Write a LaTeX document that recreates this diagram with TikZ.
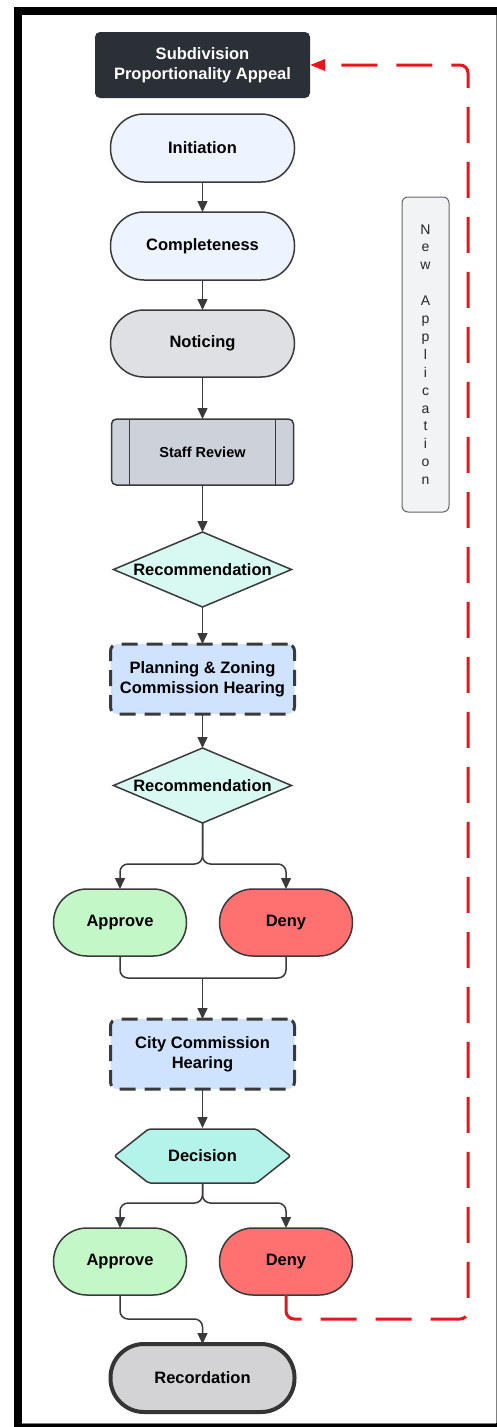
\documentclass[tikz,border=0pt]{standalone}
\usepackage{fontspec}
\setmainfont{Liberation Sans}
\definecolor{slatedark}{HTML}{2B2F36}
\definecolor{edgegray}{HTML}{3A3A3A}
\definecolor{paleblue}{HTML}{EDF4FF}
\definecolor{mistgray}{HTML}{DEE0E3}
\definecolor{steelgray}{HTML}{CDD2DA}
\definecolor{mint}{HTML}{D7F9F1}
\definecolor{hearingblue}{HTML}{CFE3FF}
\definecolor{approvegreen}{HTML}{C3F7C8}
\definecolor{denyred}{HTML}{FF7171}
\definecolor{decisionteal}{HTML}{B4F3EA}
\definecolor{recordgray}{HTML}{D3D3D5}
\definecolor{notegray}{HTML}{F2F3F5}
\definecolor{loopred}{HTML}{E6171C}
\usetikzlibrary{arrows.meta, positioning, shapes.geometric}

\begin{document}
\begin{tikzpicture}[
    x=1pt, y=-1pt,
    label/.style={font=\fontsize{16.5}{20}\selectfont\bfseries, text=black, align=center,
                  inner sep=0pt, outer sep=0pt},
    pill/.style={label, rectangle, rounded corners=33.5pt, draw=edgegray, line width=1.5pt,
                 minimum width=184pt, minimum height=68pt},
    outcome/.style={pill, minimum width=133pt, minimum height=67pt},
    procbox/.style={label, rectangle, rounded corners=5pt, draw=edgegray, line width=1.5pt, fill=steelgray,
                    minimum width=182pt, minimum height=66pt, font=\fontsize{14.5}{17}\selectfont\bfseries,
                    path picture={
                      \draw[edgegray, line width=1.5pt]
                        ([xshift=18pt]path picture bounding box.north west) -- ([xshift=18pt]path picture bounding box.south west)
                        ([xshift=-18pt]path picture bounding box.north east) -- ([xshift=-18pt]path picture bounding box.south east);}},
    choice/.style={label, diamond, draw=edgegray, line width=1.5pt, fill=mint,
                   minimum width=178pt, minimum height=75pt},
    hearing/.style={label, rectangle, rounded corners=7pt, draw=edgegray, line width=3pt,
                    dash pattern=on 16pt off 9pt, fill=hearingblue, minimum width=184pt, minimum height=70pt},
    hexbox/.style={label, rectangle, minimum width=178pt, minimum height=56pt,
                   path picture={
                     \path[fill=decisionteal, draw=edgegray, line width=1.5pt, rounded corners=2pt]
                       ([xshift=1pt]path picture bounding box.west)
                       -- ([xshift=35pt,yshift=-1pt]path picture bounding box.north west)
                       -- ([xshift=-35pt,yshift=-1pt]path picture bounding box.north east)
                       -- ([xshift=-1pt]path picture bounding box.east)
                       -- ([xshift=-35pt,yshift=1pt]path picture bounding box.south east)
                       -- ([xshift=35pt,yshift=1pt]path picture bounding box.south west) -- cycle;}},
    flow/.style={-{Triangle[length=11pt,width=10pt]}, line width=1.5pt, draw=edgegray},
    link/.style={line width=1.5pt, draw=edgegray},
    backloop/.style={-{Triangle[length=15pt,width=11pt]}, line width=3pt, draw=loopred,
                     dash pattern=on 36pt off 19pt, rounded corners=8pt}
  ]
    \useasboundingbox (0,0) rectangle (497,1427);
    % frame
    \fill[black] (14,7) rectangle (497,1427);
    \fill[white] (22,15) rectangle (496,1423);
    \draw[gray, line width=1pt] (496,15) -- (496,1423);
    \draw[gray, line width=0.8pt] (22,1423) -- (496,1423);

    \node[label, rectangle, rounded corners=5pt, fill=slatedark, text=white, minimum width=215pt, minimum height=66pt]
      (appeal) at (202.5,65) {Subdivision\\Proportionality Appeal};
    \node[pill, fill=paleblue, below=16pt of appeal] (init) {Initiation};
    \node[pill, fill=paleblue, below=30pt of init] (complete) {Completeness};
    \node[pill, fill=mistgray, below=30pt of complete, minimum height=67pt] (notice) {Noticing};
    \node[procbox, below=42pt of notice] (staff) {Staff Review};
    \node[choice, below=47pt of staff] (rec1) {\makebox[0pt]{Recommendation}};
    \node[hearing, below=37pt of rec1] (pzhear) {Planning \& Zoning\\Commission Hearing};
    \node[choice, below=34pt of pzhear] (rec2) {\makebox[0pt]{Recommendation}};
    \node[outcome, fill=approvegreen, below=66pt of rec2, xshift=-82.5pt] (approve1) {Approve};
    \node[outcome, fill=denyred, right=33pt of approve1] (deny1) {Deny};
    \node[hearing, below=63pt of approve1, xshift=82.5pt] (cityhear) {City Commission\\Hearing};
    \node[hexbox, below=39pt of cityhear] (decide) {Decision};
    \node[outcome, fill=approvegreen, below=44pt of decide, xshift=-82.5pt] (approve2) {Approve};
    \node[outcome, fill=denyred, right=33pt of approve2] (deny2) {Deny};
    \node[pill, fill=recordgray, line width=4pt, draw=edgegray!90!black, below=49pt of approve2, xshift=82.5pt] (record) {Recordation};

    \node[rectangle, rounded corners=6pt, draw=gray!80!black, line width=1pt, fill=notegray,
          minimum width=47pt, minimum height=315pt, align=center, text=black!85, outer sep=0pt,
          font=\fontsize{14}{17.9}\selectfont] (newapp) at (425.5,354.5)
      {N\\e\\w\\\mbox{}\\A\\p\\p\\l\\i\\c\\a\\t\\i\\o\\n};

    % main column
    \draw[flow] (init) -- (complete);
    \draw[flow] (complete) -- (notice);
    \draw[flow] (notice) -- (staff);
    \draw[flow] (staff) -- (rec1);
    \draw[flow] (rec1) -- (pzhear);
    \draw[flow] (pzhear) -- (rec2);

    % first split and merge
    \draw[flow, rounded corners=8pt] (rec2.south) -- ++(0,41) -| (approve1.north);
    \draw[flow, rounded corners=8pt] (rec2.south) -- ++(0,41) -| (deny1.north);
    \path (approve1.south) -- ++(0,22) coordinate (bendA);
    \draw[link, rounded corners=8pt] (approve1.south) -- (bendA) -| (deny1.south);
    \draw[flow] (bendA -| cityhear.north) -- (cityhear.north);
    \draw[flow] (cityhear) -- (decide);

    % second split
    \draw[flow, rounded corners=8pt] (decide.south) -- ++(0,19) -| (approve2.north);
    \draw[flow, rounded corners=8pt] (decide.south) -- ++(0,19) -| (deny2.north);
    \draw[flow, rounded corners=8pt] (approve2.south) -- ++(0,24) -| (record.north);

    % back to the start
    \draw[backloop] (deny2.south) -- ++(0,24) -| ([xshift=158pt]appeal.east) -- (appeal.east);
  \end{tikzpicture}
\end{document}
